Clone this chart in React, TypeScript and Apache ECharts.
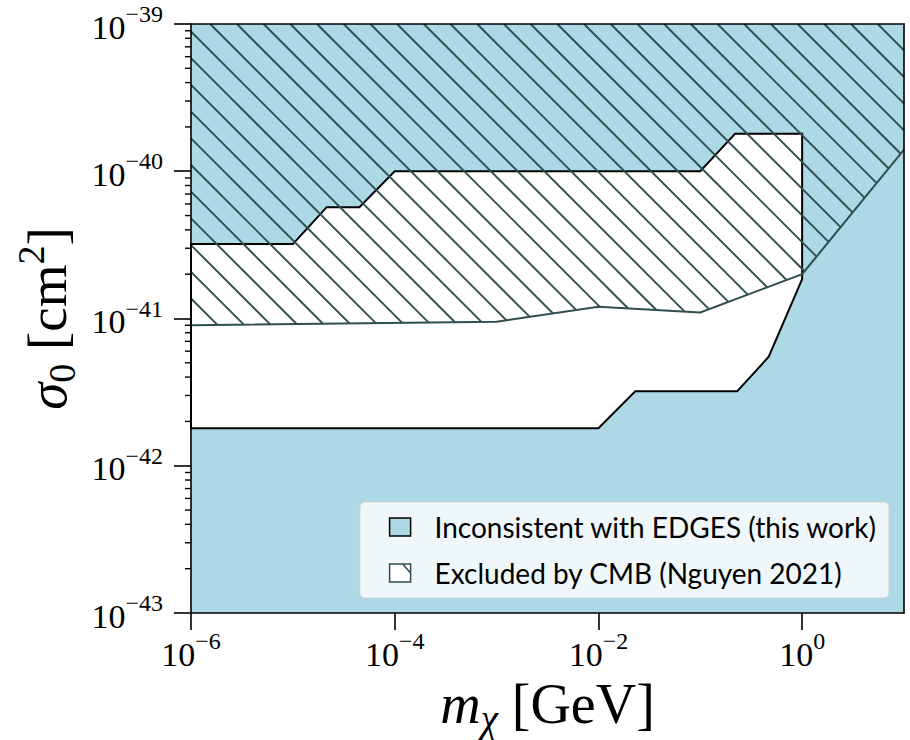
import React, { useEffect, useRef } from 'react';
import * as echarts from 'echarts';

// Axis extents and major ticks (m_chi in GeV, sigma_0 in cm^2)
const massRange = [1e-6, 10];
const sigmaRange = [1e-43, 1e-39];
const massTicks = [1e-6, 1e-4, 1e-2, 1];

// Closed outline of the parameter space still consistent with EDGES
const edgesAllowedMass = [1e-6, 1e-5, 2.15e-5, 4.5e-5, 1e-4, 0.1, 0.22, 1, 1, 0.47, 0.23, 0.023, 0.01, 1e-6];
const edgesAllowedSigma = [3.2e-41, 3.2e-41, 5.7e-41, 5.7e-41, 1e-40, 1e-40, 1.8e-40, 1.8e-40, 1.85e-41, 5.5e-42, 3.2e-42, 3.2e-42, 1.8e-42, 1.8e-42];

// Lower edge of the CMB exclusion (Nguyen 2021)
const cmbMass = [1e-6, 1e-3, 1e-2, 0.1, 1, 10];
const cmbSigma = [9.0e-42, 9.5e-42, 1.2e-41, 1.1e-41, 2.0e-41, 1.4e-40];

// the sigma axis runs in units of 1e-43 cm^2 (keeps the log scale's tick rounding sane)
const SIGMA_UNIT = 1e-43;

const EDGES_NAME = 'Inconsistent with EDGES (this work)';
const CMB_NAME = 'Excluded by CMB (Nguyen 2021)';

const SERIF = '"Liberation Serif", "DejaVu Serif", serif';
const SANS = 'Lato, "Noto Sans", sans-serif';
const BLUE = '#ADD8E6';
const SLATE = '#2F4F4F';

const HATCH_SPACING = 26.7;
const HATCH_PHASE = 26;

// minor ticks at 2..9 x each decade of the sigma axis
const sigmaMinorTicks: number[] = [];
for (let e = -43; e < -39; e++) {
  for (let k = 2; k <= 9; k++) sigmaMinorTicks.push(k * Math.pow(10, e));
}

const powerLabel = (v: number) => {
  const e = Math.round(Math.log10(v));
  return `{b|10}{s|${e < 0 ? '\u2212' : ''}${Math.abs(e)}}`;
};

// base digits sit slightly low, exponent raised; the whole label is centred on its tick
const tickRich = {
  b: { fontFamily: SERIF, fontSize: 34, color: '#000', padding: [6, 0, 0, 0] },
  s: { fontFamily: SERIF, fontSize: 24, color: '#000', padding: [0, 0, 20, 0] },
};

// intersect '\' hatch lines (x - y = c in pixels) with a polygon
function hatchSegments(poly: number[][], rect: { x: number; y: number; width: number; height: number }) {
  const segs: number[][] = [];
  const cMin = rect.x - (rect.y + rect.height);
  const cMax = rect.x + rect.width - rect.y;
  let c = Math.ceil((cMin - HATCH_PHASE) / HATCH_SPACING) * HATCH_SPACING + HATCH_PHASE;
  for (; c <= cMax; c += HATCH_SPACING) {
    const xs: number[] = [];
    for (let i = 0; i < poly.length; i++) {
      const p = poly[i];
      const q = poly[(i + 1) % poly.length];
      const fp = p[0] - p[1] - c;
      const fq = q[0] - q[1] - c;
      if ((fp < 0) !== (fq < 0)) {
        const t = fp / (fp - fq);
        xs.push(p[0] + t * (q[0] - p[0]));
      }
    }
    xs.sort((a, b) => a - b);
    for (let k = 0; k + 1 < xs.length; k += 2) {
      segs.push([xs[k], xs[k] - c, xs[k + 1], xs[k + 1] - c]);
    }
  }
  return segs;
}

function buildOption() {
  const logAxis = { type: 'log', logBase: 10, splitLine: { show: false }, minorTick: { show: false } };
  const frameLine = { show: true, onZero: false, lineStyle: { color: '#000', width: 1.6 } };
  const tickLine = { color: '#000', width: 1.6 };
  const sMin = sigmaRange[0] / SIGMA_UNIT;
  const sMax = sigmaRange[1] / SIGMA_UNIT;
  const pt = (api: any, m: number, s: number) => api.coord([m, s / SIGMA_UNIT]);

  return {
    animation: false,
    backgroundColor: '#fff',
    grid: { left: 191, right: 6, top: 24, bottom: 127, containLabel: false, outerBoundsMode: 'none' },
    legend: {
      orient: 'vertical',
      right: 21,
      bottom: 142,
      padding: [11, 12, 11, 29],
      itemWidth: 21,
      itemHeight: 18,
      itemGap: 18,
      selectedMode: false,
      backgroundColor: 'rgba(255,255,255,0.8)',
      borderColor: 'rgba(204,204,204,0.8)',
      borderWidth: 1,
      borderRadius: 5,
      textStyle: { fontFamily: SANS, fontSize: 28, color: '#000', padding: [0, 0, 0, 19] },
      data: [
        { name: EDGES_NAME, icon: 'rect', itemStyle: { color: BLUE, borderColor: '#000', borderWidth: 1.5 } },
        {
          name: CMB_NAME,
          icon: 'path://M0 0H21V18H0Z M13 0L21 9',
          itemStyle: { color: '#fff', borderColor: SLATE, borderWidth: 1.5 },
        },
      ],
    },
    xAxis: [
      {
        ...logAxis,
        min: massRange[0],
        max: massRange[1],
        position: 'bottom',
        z: 10,
        axisLine: frameLine,
        axisTick: { show: true, length: 17, customValues: massTicks, lineStyle: tickLine },
        axisLabel: { customValues: massTicks, formatter: powerLabel, margin: 16, rich: tickRich },
        name: '{i|m}{sub|\u03c7}{r| [GeV]}',
        nameLocation: 'middle',
        nameGap: 44,
        nameTextStyle: {
          rich: {
            i: { fontFamily: SERIF, fontStyle: 'italic', fontSize: 56, color: '#000' },
            sub: { fontFamily: SERIF, fontStyle: 'italic', fontSize: 39, color: '#000', padding: [29, 0, 0, 0] },
            r: { fontFamily: SERIF, fontSize: 56, color: '#000' },
          },
        },
      },
      {
        ...logAxis,
        min: massRange[0],
        max: massRange[1],
        position: 'top',
        z: 10,
        axisLine: frameLine,
        axisTick: { show: false },
        axisLabel: { show: false },
      },
    ],
    yAxis: [
      {
        ...logAxis,
        min: sMin,
        max: sMax,
        splitNumber: 4,
        position: 'left',
        z: 10,
        axisLine: frameLine,
        axisTick: { show: true, length: 17, lineStyle: tickLine },
        axisLabel: { formatter: (v: number) => powerLabel(v * SIGMA_UNIT), margin: 28, rich: tickRich },
        name: '{i|\u03c3}{sub|0}{r| [cm}{sup|2}{r|]}',
        nameLocation: 'middle',
        nameRotate: 90,
        nameGap: 104,
        nameTextStyle: {
          rich: {
            i: { fontFamily: SERIF, fontStyle: 'italic', fontSize: 55, color: '#000' },
            sub: { fontFamily: SERIF, fontSize: 38, color: '#000', padding: [28, 0, 0, 0] },
            sup: { fontFamily: SERIF, fontSize: 38, color: '#000', padding: [0, 0, 34, 0] },
            r: { fontFamily: SERIF, fontSize: 55, color: '#000' },
          },
        },
      },
      {
        ...logAxis,
        min: sMin,
        max: sMax,
        position: 'right',
        z: 10,
        axisLine: frameLine,
        axisTick: { show: false },
        axisLabel: { show: false },
      },
    ],
    series: [
      {
        // full plot extent shaded; the allowed pocket is painted over it
        name: EDGES_NAME,
        type: 'custom',
        silent: true,
        data: [[1, 100]],
        renderItem: (_params: any, api: any) => {
          const a = pt(api, massRange[0], sigmaRange[1]);
          const b = pt(api, massRange[1], sigmaRange[0]);
          return {
            type: 'rect',
            shape: { x: a[0], y: a[1], width: b[0] - a[0], height: b[1] - a[1] },
            style: { fill: BLUE },
          };
        },
      },
      {
        name: 'EDGES allowed',
        type: 'custom',
        silent: true,
        data: [[1, 100]],
        renderItem: (_params: any, api: any) => {
          const pts = edgesAllowedMass.map((m, i) => pt(api, m, edgesAllowedSigma[i]));
          return {
            type: 'polygon',
            shape: { points: pts },
            style: { fill: '#fff', stroke: '#000', lineWidth: 2, lineJoin: 'miter' },
          };
        },
      },
      {
        name: CMB_NAME,
        type: 'custom',
        silent: true,
        data: [[1, 100]],
        renderItem: (params: any, api: any) => {
          const edge = cmbMass.map((m, i) => pt(api, m, cmbSigma[i]));
          const poly = [...edge, pt(api, massRange[1], sigmaRange[1]), pt(api, massRange[0], sigmaRange[1])];
          const segs = hatchSegments(poly, params.coordSys);
          const children: any[] = segs.map((s) => ({
            type: 'line',
            shape: { x1: s[0], y1: s[1], x2: s[2], y2: s[3] },
            style: { stroke: SLATE, lineWidth: 1.9 },
          }));
          children.push({
            type: 'polyline',
            shape: { points: edge },
            style: { stroke: SLATE, lineWidth: 2, fill: null },
          });
          return { type: 'group', children };
        },
      },
      {
        // log minor ticks on the sigma axis, outside the frame
        name: 'sigma minor ticks',
        type: 'custom',
        silent: true,
        clip: false,
        z: 20,
        data: [[1, 100]],
        renderItem: (_params: any, api: any) => ({
          type: 'group',
          children: sigmaMinorTicks.map((v) => {
            const p = pt(api, massRange[0], v);
            return {
              type: 'line',
              shape: { x1: p[0] - 6, y1: p[1], x2: p[0], y2: p[1] },
              style: { stroke: '#000', lineWidth: 1.4 },
            };
          }),
        }),
      },
    ],
  };
}

export default function App() {
  const ref = useRef<HTMLDivElement>(null);
  useEffect(() => {
    document.body.style.margin = '0';
    const chart = echarts.init(ref.current!, null, { renderer: 'svg' });
    chart.setOption(buildOption() as any);
    return () => chart.dispose();
  }, []);
  return <div ref={ref} style={{ width: 910, height: 740 }} />;
}
